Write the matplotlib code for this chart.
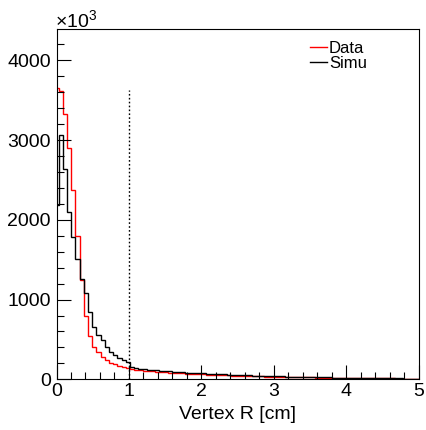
import numpy as np
import matplotlib
matplotlib.use("Agg")
import matplotlib.pyplot as plt
from matplotlib.ticker import MultipleLocator, FixedLocator

plt.rcParams['font.family'] = ['Liberation Sans', 'DejaVu Sans']
plt.rcParams['mathtext.fontset'] = 'custom'
plt.rcParams['mathtext.rm'] = 'Liberation Sans'
plt.rcParams['mathtext.it'] = 'Liberation Sans:italic'

# ---- data (counts in units of 10^3) ----
bin_start = -0.028
bin_width = 0.058

data_head = [3660, 3620, 3330, 2905, 2370, 1800, 1250, 800, 540, 410,
             345, 280, 240, 210, 190, 167, 155, 140]
data_tail = [125, 119, 113, 108, 103, 98, 94, 90, 86, 83,
             80, 77, 74, 71, 68, 65, 63, 61, 59, 57,
             55, 53, 51, 49, 47, 45, 44, 42, 41, 39,
             38, 36, 35, 34, 33, 31, 30, 29, 28, 27,
             26, 25, 24, 23, 22, 21, 20, 19, 18.5, 18,
             17, 16.5, 16, 15, 14.5, 14, 13.5, 13, 12.5, 12,
             11.5, 11, 10.5, 10, 9.5, 9, 8.5, 8, 7.5]

simu_head = [2180, 3060, 2640, 2100, 1790, 1510, 1260, 1080, 845, 656,
             550, 490, 405, 340, 300, 267, 240, 215]
simu_tail = [150, 142, 135, 128, 122, 117, 112, 107, 103, 99,
             95, 92, 88, 85, 82, 79, 76, 73, 71, 68,
             66, 63, 61, 59, 57, 55, 53, 51, 49, 47,
             45, 44, 42, 40, 39, 37, 36, 34, 33, 32,
             30, 29, 28, 27, 26, 25, 24, 23, 22, 21,
             20, 19, 18, 17.5, 17, 16, 15, 14.5, 14, 13,
             12.5, 12, 11.5, 11, 10.5, 10, 9.5, 9, 8.5]

data_vals = np.array(data_head + data_tail, dtype=float)
simu_vals = np.array(simu_head + simu_tail, dtype=float)
edges = bin_start + bin_width * np.arange(len(data_vals) + 1)

cut_value = 1.0
cut_height = 3630
series_labels = ["Data", "Simu"]
xlabel = "Vertex R [cm]"
y_major = [0, 1000, 2000, 3000, 4000]
x_major = [0, 1, 2, 3, 4, 5]

# ---- figure ----
W, H = 426, 430
fig = plt.figure(figsize=(W / 100, H / 100), dpi=100)
ax = fig.add_axes([56.5 / W, 1 - 379.3 / H, (418.5 - 56.5) / W, (379.3 - 29.3) / H])

ax.stairs(data_vals, edges, color='#ff0000', lw=1.0, baseline=0)
ax.stairs(simu_vals, edges, color='black', lw=1.0, baseline=0)
ax.plot([cut_value, cut_value], [0, cut_height], color='black', lw=1.0,
        linestyle=(0, (1.2, 1.6)))

ax.set_xlim(0, 5)
ax.set_ylim(0, 4390)

ax.xaxis.set_major_locator(FixedLocator(x_major))
ax.xaxis.set_minor_locator(MultipleLocator(0.2))
ax.yaxis.set_major_locator(FixedLocator(y_major))
ax.yaxis.set_minor_locator(MultipleLocator(200))
ax.tick_params(which='both', direction='in', top=False, right=False,
               labelsize=14, width=0.8, color='black')
ax.tick_params(which='major', length=10)
ax.tick_params(which='minor', length=5)
ax.tick_params(axis='y', pad=4)
ax.tick_params(axis='x', pad=3)
for s in ax.spines.values():
    s.set_linewidth(0.8)

ax.set_xlabel(xlabel, fontsize=14, labelpad=4)
ax.text(-0.004, 1.006, r'×10$^{3}$', transform=ax.transAxes, fontsize=14,
        ha='left', va='baseline')

# legend
leg_handles = [plt.Line2D([], [], color='#ff0000', lw=1.0),
               plt.Line2D([], [], color='black', lw=1.0)]
leg = ax.legend(leg_handles, series_labels, loc='upper left',
                bbox_to_anchor=(0.700, 0.966), frameon=False, fontsize=12,
                handlelength=1.05, handletextpad=0.1, labelspacing=0.0,
                borderpad=0.0, borderaxespad=0.0)

fig.savefig('out.png', dpi=100)
